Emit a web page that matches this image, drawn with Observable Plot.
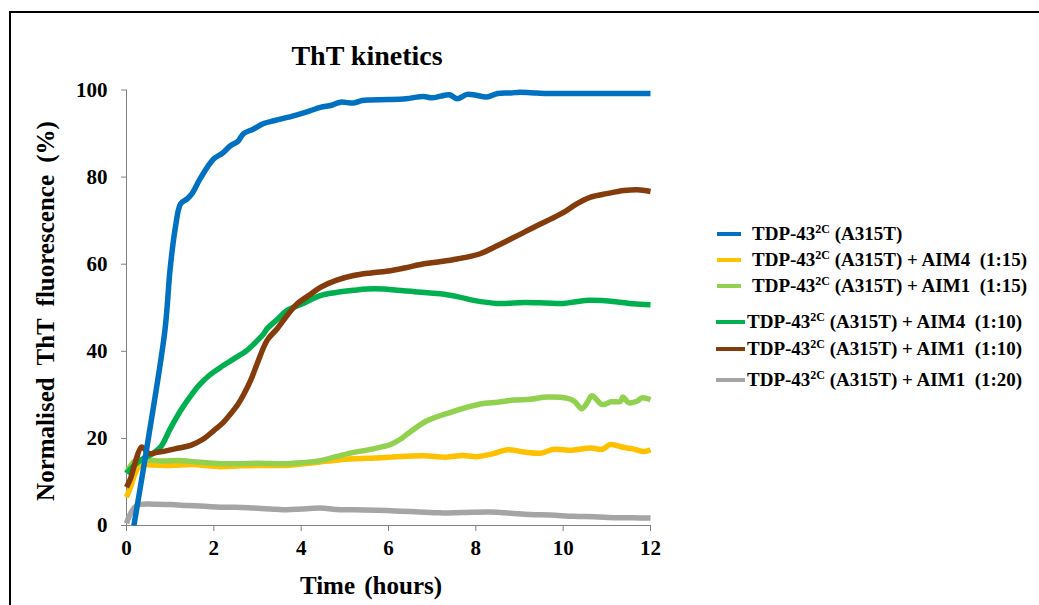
<!DOCTYPE html>
<html><head><meta charset="utf-8">
<script src="https://cdn.jsdelivr.net/npm/d3@7"></script>
<script src="https://cdn.jsdelivr.net/npm/@observablehq/plot@0.6"></script>
<style>
html,body{margin:0;padding:0;background:#fff;}
#wrap{position:relative;width:1039px;height:605px;overflow:hidden;font-family:"Liberation Serif","Times New Roman",serif;font-weight:bold;color:#000;}
#frame{position:absolute;left:9px;top:11px;width:1200px;height:800px;border-top:2.5px solid #000;border-left:2.5px solid #000;}
#chart{position:absolute;left:0;top:0;}
.lbl{position:absolute;white-space:pre;}
#legend{position:absolute;left:0;top:0;}
.row{position:absolute;white-space:pre;font-size:19px;line-height:19px;}
.row sup{font-size:12px;vertical-align:0;position:relative;top:-7px;}
.sw{position:absolute;height:4px;}
</style></head>
<body>
<div id="wrap">
  <div id="frame"></div>
  <div id="chart"></div>
  <div class="lbl" id="title" style="font-size:28px;left:367px;top:40px;transform:translateX(-50%);">ThT kinetics</div>
  <div class="lbl" id="xlab" style="font-size:25px;left:371px;top:572px;transform:translateX(-50%);word-spacing:3px;">Time (hours)</div>
  <div class="lbl" id="ylab" style="font-size:25px;left:46px;top:311px;transform:translate(-50%,-50%) rotate(-90deg);word-spacing:6px;">Normalised ThT fluorescence (%)</div>
  <div id="legend"></div>
</div>
<script>
// Series names
const seriesNames = [
  "TDP-43 (A315T)",
  "TDP-43 (A315T) + AIM4 (1:15)",
  "TDP-43 (A315T) + AIM1 (1:15)",
  "TDP-43 (A315T) + AIM4 (1:10)",
  "TDP-43 (A315T) + AIM1 (1:10)",
  "TDP-43 (A315T) + AIM1 (1:20)"
];
const legendSuffix = ["", " + AIM4  (1:15)", " + AIM1  (1:15)", " + AIM4  (1:10)", " + AIM1  (1:10)", " + AIM1  (1:20)"];
const seriesColors = ["#0070c0", "#ffc000", "#92d050", "#00b050", "#843c0c", "#a5a5a5"];

// TDP-43 (A315T)
const tBlue = [0.17,0.53,0.88,1.0,1.12,1.24,1.39,1.5,1.69,2.0,2.2,2.38,2.55,2.68,2.9,3.14,3.4,3.68,4.0,4.2,4.44,4.7,4.9,5.2,5.4,5.59,6.0,6.4,6.8,7.0,7.2,7.4,7.57,7.8,8.0,8.25,8.5,8.8,9.0,9.4,9.7,12];
const vBlue = [0,21.8,44.8,59,68.5,73.9,75,76.2,79.7,84.2,85.5,87.2,88.2,90,91,92.3,93,93.7,94.6,95.2,96,96.5,97.2,97,97.6,97.7,97.8,98,98.5,98.2,98.6,98.9,98.0,99,98.8,98.4,99.2,99.3,99.5,99.3,99.2,99.2];

// + AIM4 (1:15)
const tYellow = [0,0.1,0.2,0.32,0.6,1.0,1.5,2.15,2.6,3.0,3.68,4.0,4.44,4.8,5.2,5.7,6.05,6.4,6.81,7.1,7.34,7.7,8.02,8.4,8.72,9.1,9.48,9.79,10.2,10.63,10.9,11.08,11.39,11.6,11.85,12];
const vYellow = [6.5,9,12,13.8,13.9,13.8,14,13.5,13.7,13.8,13.8,14.1,14.6,15,15.3,15.5,15.7,15.9,16,15.8,15.7,16.1,15.8,16.5,17.4,16.9,16.6,17.5,17.3,17.8,17.5,18.6,17.9,17.6,17.0,17.4];

// + AIM1 (1:15)
const tLgreen = [0,0.1,0.2,0.4,0.8,1.2,1.6,2.15,2.6,3.0,3.68,4.0,4.44,4.8,5.2,5.5,5.82,6.05,6.27,6.43,6.89,7.42,8.1,8.5,8.87,9.25,9.63,10.1,10.25,10.43,10.55,10.66,10.89,11.1,11.31,11.37,11.5,11.7,11.8,12];
const vLgreen = [12,13.8,14.9,15.1,14.8,14.9,14.6,14.2,14.2,14.3,14.2,14.4,14.9,15.8,16.8,17.3,18,18.6,19.8,21,24.1,26,27.9,28.3,28.8,29,29.5,29.2,28.6,26.8,28.2,29.8,27.8,28.4,28.5,29.5,28.2,28.6,29.3,28.9];

// + AIM4 (1:10)
const tGreen = [0,0.2,0.4,0.55,0.78,1.0,1.24,1.45,1.69,1.9,2.15,2.45,2.76,2.95,3.14,3.22,3.45,3.68,4.0,4.44,4.8,5.2,5.5,5.89,6.2,6.6,7.19,7.6,7.95,8.49,9.1,9.6,10.0,10.3,10.6,11.2,11.6,12];
const vGreen = [12,14,15.5,16.2,18,22.2,26.4,29.5,32.5,34.5,36.3,38.2,40.2,42,44,45.2,47.3,49.4,50.8,52.8,53.5,54,54.3,54.3,54,53.7,53.2,52.5,51.7,51,51.2,51.1,51,51.4,51.7,51.4,50.9,50.7];

// + AIM1 (1:10)
const tBrown = [0,0.1,0.2,0.34,0.42,0.51,0.7,0.93,1.2,1.47,1.75,2.0,2.2,2.38,2.55,2.69,2.85,2.99,3.22,3.45,3.7,3.91,4.2,4.44,4.8,5.2,5.6,6.05,6.4,6.81,7.2,7.57,8.1,8.4,8.72,9.0,9.33,9.7,10.01,10.3,10.63,11.0,11.39,11.7,12];
const vBrown = [8.8,11,14.5,18,17.5,16.5,16.8,17.2,17.8,18.4,19.8,21.8,23.5,25.6,27.8,30.2,33.5,37.1,42.5,45.2,48.5,50.9,53,54.7,56.3,57.4,58,58.5,59.2,60.1,60.6,61.2,62.4,63.8,65.4,66.8,68.5,70.3,71.9,73.8,75.4,76.2,76.9,77.1,76.7];

// + AIM1 (1:20)
const tGray = [0,0.08,0.24,0.63,1.0,1.39,1.8,2.15,2.5,2.92,3.3,3.68,4.0,4.44,4.8,5.2,5.7,6.27,6.7,7.19,7.7,8.33,8.8,9.25,9.7,10.24,10.7,11.24,11.6,12];
const vGray = [0.5,2.5,4.6,4.9,4.8,4.6,4.4,4.2,4.2,4.0,3.8,3.6,3.8,4.0,3.7,3.6,3.5,3.3,3.1,2.9,3.0,3.1,2.8,2.5,2.4,2.1,2.0,1.8,1.8,1.7];

const xTicks = [0,2,4,6,8,10,12];
const yTicks = [0,20,40,60,80,100];

const times = [tBlue, tYellow, tLgreen, tGreen, tBrown, tGray];
const vals = [vBlue, vYellow, vLgreen, vGreen, vBrown, vGray];
const data = [];
times.forEach((ts, i) => ts.forEach((t, j) => data.push({series: seriesNames[i], t, v: vals[i][j]})));

// draw order: gray, yellow, light green, green, brown, blue on top
const drawOrder = [5, 1, 2, 3, 4, 0];

const font = "Liberation Serif";
const plot = Plot.plot({
  width: 1039,
  height: 605,
  marginLeft: 126,
  marginRight: 389,
  marginTop: 89.5,
  marginBottom: 80,
  style: {background: "transparent", fontFamily: font},
  x: {domain: [0, 12]},
  y: {domain: [0, 100]},
  color: {domain: seriesNames, range: seriesColors},
  marks: [
    Plot.axisX({ticks: xTicks, tickSize: 6, tickPadding: 9, stroke: "#808080", fill: "#000", fontSize: 21, fontWeight: "bold", fontFamily: font, label: null}),
    Plot.axisY({ticks: yTicks, tickSize: 5, tickPadding: 14, stroke: "#808080", fill: "#000", fontSize: 21, fontWeight: "bold", fontFamily: font, label: null}),
    Plot.ruleX([0], {stroke: "#808080"}),
    Plot.ruleY([0], {stroke: "#808080"}),
    ...drawOrder.map(i => Plot.line(data.filter(d => d.series === seriesNames[i]), {
      x: "t", y: "v", stroke: "series", strokeWidth: 5.5, curve: "catmull-rom", strokeLinejoin: "round", strokeLinecap: "butt"
    }))
  ]
});
document.getElementById("chart").appendChild(plot);

// legend
const rowsY = [234, 260, 286, 322, 349, 380];
const swX = [717, 717, 717, 716, 716, 716];
const swW = [24, 24, 24, 29, 29, 29];
const txtX = [752, 752, 752, 747, 747, 747];
const leg = document.getElementById("legend");
seriesNames.forEach((name, i) => {
  const sw = document.createElement("div");
  sw.className = "sw";
  sw.style.left = swX[i] + "px";
  sw.style.top = (rowsY[i] - 2) + "px";
  sw.style.width = swW[i] + "px";
  sw.style.background = seriesColors[i];
  leg.appendChild(sw);
  const r = document.createElement("div");
  r.className = "row";
  r.style.left = txtX[i] + "px";
  r.style.top = (rowsY[i] - 10) + "px";
  r.innerHTML = "TDP-43<sup>2C</sup> (A315T)" + legendSuffix[i];
  leg.appendChild(r);
});
</script>
</body></html>
